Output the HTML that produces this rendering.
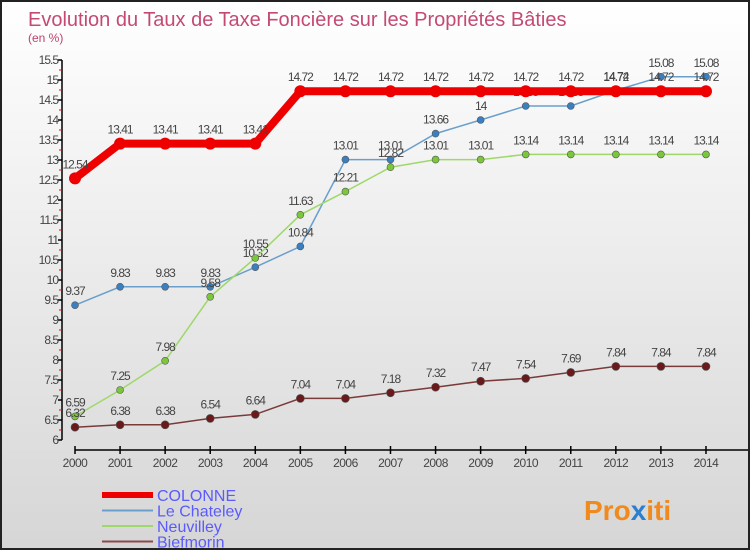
<!DOCTYPE html>
<html><head><meta charset="utf-8"><style>
body{margin:0}
#c{width:750px;height:550px;position:relative;box-sizing:border-box;border:2px solid #222;background:linear-gradient(#ffffff,#d6d6d6);overflow:hidden;font-family:"Liberation Sans",sans-serif}
</style></head><body>
<div id="c">
<svg id="s" width="746" height="546" style="position:absolute;left:0;top:0">
<text x="26" y="24" font-size="20" fill="#c44a74">Evolution du Taux de Taxe Foncière sur les Propriétés Bâties</text>
<text x="26" y="40" font-size="12" fill="#c0406a">(en %)</text>
<g id="axes"></g><g id="series"></g><g id="legend"></g>
<text x="582" y="518" font-size="28" font-weight="bold" fill="#f08a1c">Pro<tspan fill="#2a7fd0">x</tspan>iti</text>
</svg>
</div>
<script>
const years=[2000,2001,2002,2003,2004,2005,2006,2007,2008,2009,2010,2011,2012,2013,2014];
const yTicks=[6,6.5,7,7.5,8,8.5,9,9.5,10,10.5,11,11.5,12,12.5,13,13.5,14,14.5,15,15.5];
const colonne=[12.54,13.41,13.41,13.41,13.41,14.72,14.72,14.72,14.72,14.72,14.72,14.72,14.72,14.72,14.72];
const chateley=[9.37,9.83,9.83,9.83,10.32,10.84,13.01,13.01,13.66,14,14.35,14.35,14.74,15.08,15.08];
const neuvilley=[6.59,7.25,7.98,9.58,10.55,11.63,12.21,12.82,13.01,13.01,13.14,13.14,13.14,13.14,13.14];
const biefmorin=[6.32,6.38,6.38,6.54,6.64,7.04,7.04,7.18,7.32,7.47,7.54,7.69,7.84,7.84,7.84];
const names=["COLONNE","Le Chateley","Neuvilley","Biefmorin"];
const NS="http://www.w3.org/2000/svg";
const X=i=>73+i*45.07, Y=v=>438-(v-6)*40;
function mk(t,a,p){const e=document.createElementNS(NS,t);for(const k in a)e.setAttribute(k,a[k]);p.appendChild(e);return e;}
const ax=document.getElementById('axes');
let l=mk('line',{x1:60,y1:Y(15.5),x2:60,y2:Y(6),stroke:'#000','stroke-width':1.5},ax);


yTicks.forEach((v,i)=>{
 let t=mk('line',{x1:56,y1:Y(v),x2:60,y2:Y(v),stroke:'#000','stroke-width':1.5},ax);
 
 
 if(i>0){
 let r=mk('line',{x1:57,y1:Y(v)+10,x2:60,y2:Y(v)+10,stroke:'#e00','stroke-width':1},ax);
 
 
 }
 let tx=mk('text',{x:56,y:Y(v)+4,'font-size':12,'text-anchor':'end',fill:'#444','letter-spacing':'-1'},ax);
 tx.textContent=v;
 
 
});
l=mk('line',{x1:73,y1:448,x2:746,y2:448,stroke:'#000','stroke-width':1.5},ax);


years.forEach((y,i)=>{
 let t=mk('line',{x1:X(i),y1:444,x2:X(i),y2:452,stroke:'#000','stroke-width':1.5},ax);
 
 
 let tx=mk('text',{x:X(i),y:465,'font-size':12,'text-anchor':'middle',fill:'#444','letter-spacing':'-0.5'},ax);
 tx.textContent=y;
 
 
});
const sg=document.getElementById('series');
const cfg=[[chateley,'#6a9fcc','#3a7fc0',1.5,3.5],[neuvilley,'#9ed86a','#7ac83a',1.5,3.5],[biefmorin,'#7a3a3a','#6a1a1a',1.5,4],[colonne,'#ee0000','#ee0000',8,6]];
const ids=['le-chateley','neuvilley','biefmorin','colonne'];
cfg.forEach((c,k)=>{
 const d=c[0];
 let p=mk('polyline',{points:d.map((v,i)=>X(i)+','+Y(v)).join(' '),fill:'none',stroke:c[1],'stroke-width':c[3]},sg);
 
 
 d.forEach((v,i)=>{
  let ci=mk('circle',{cx:X(i),cy:Y(v),r:c[4],fill:c[2],stroke:'#555','stroke-width':k==3?0:0.6},sg);
  
  
  let tx=mk('text',{x:X(i),y:Y(v)-10,'font-size':12,'text-anchor':'middle',fill:'#444','letter-spacing':'-1'},sg);
  tx.textContent=v;
  
  
 });
});
const lg=document.getElementById('legend');
const lc=[['#ee0000',6],['#6a9fcc',2],['#9ed86a',2],['#8a4a4a',2]];
names.forEach((n,i)=>{
 const y=493+i*15.5;
 let r=mk('line',{x1:100,y1:y,x2:151,y2:y,stroke:lc[i][0],'stroke-width':lc[i][1]},lg);
 
 
 let tx=mk('text',{x:155,y:y+6,'font-size':16,fill:'#5a5aff'},lg);
 tx.textContent=n;
 
 
});
</script>
</body></html>
